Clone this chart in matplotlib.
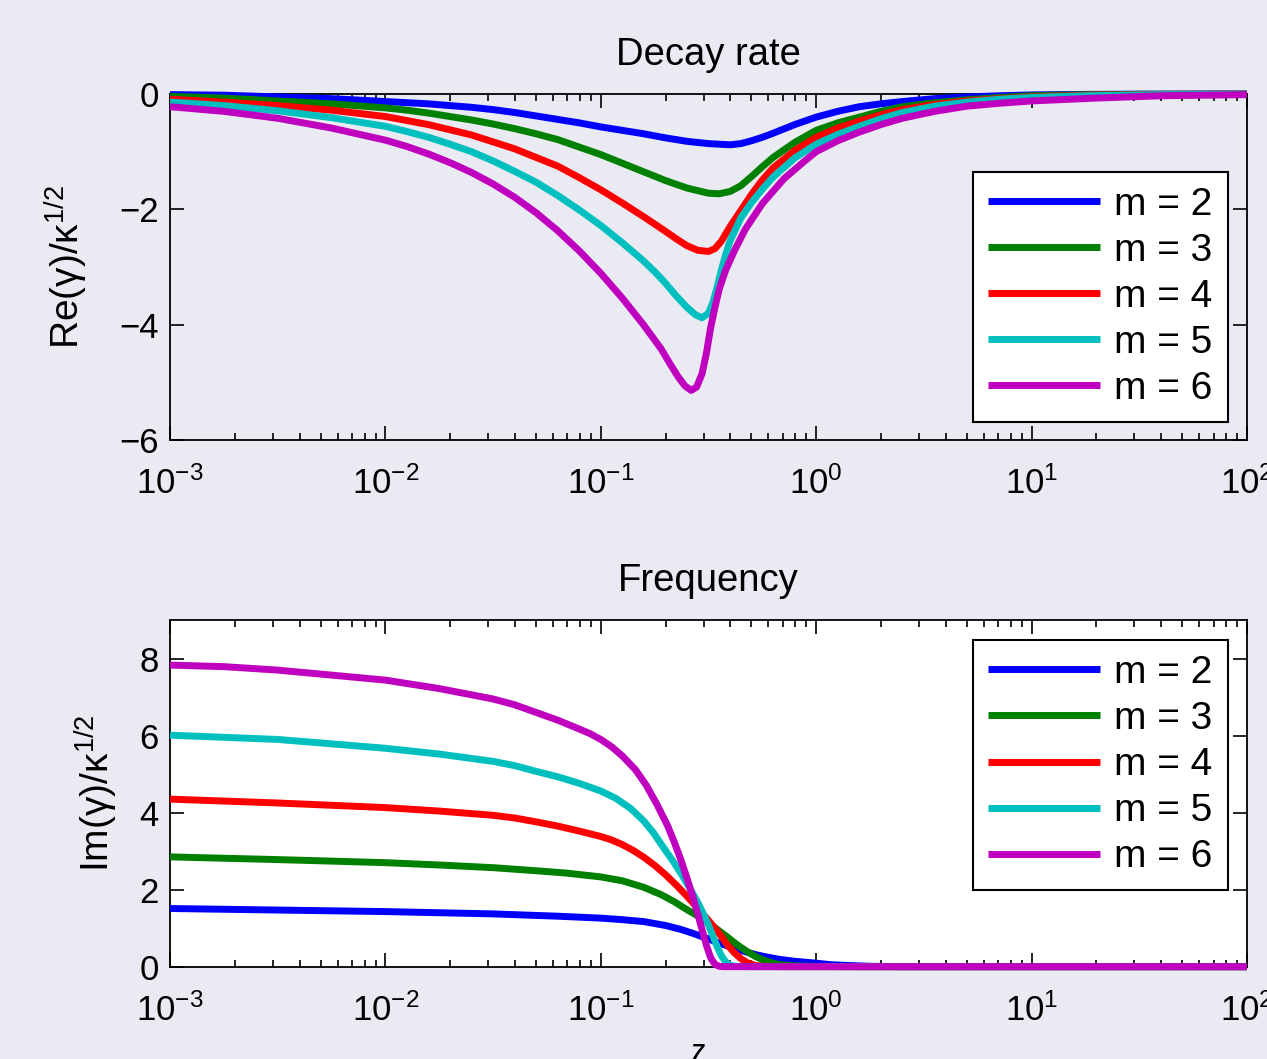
import numpy as np
import matplotlib
matplotlib.use('Agg')
import matplotlib.pyplot as plt
from matplotlib.ticker import LogLocator, NullFormatter

plt.rcParams['font.family'] = ['Liberation Sans', 'DejaVu Sans']
plt.rcParams['mathtext.fontset'] = 'custom'
plt.rcParams['mathtext.rm'] = 'Liberation Sans'
plt.rcParams['mathtext.it'] = 'Liberation Sans:italic'

labels = ['m = 2', 'm = 3', 'm = 4', 'm = 5', 'm = 6']
colors = ['#0000FF', '#008000', '#FF0000', '#00BFBF', '#BF00BF']

# decay rate, Re(gamma)/kappa^(1/2) -- x given as log10(zeta)
re_logx_m2 = [-3, -2.75, -2.5, -2.25, -2, -1.9, -1.8, -1.7, -1.6, -1.5, -1.4, -1.3, -1.2, -1.1, -1.0, -0.9, -0.8,
              -0.7, -0.6, -0.5, -0.4, -0.35, -0.3, -0.25, -0.2, -0.1, 0, 0.1, 0.2, 0.3, 0.4, 0.55, 0.7, 0.85, 1.0,
              1.25, 1.5, 2]
re_m2 = [-0.01, -0.02, -0.05, -0.08, -0.13, -0.15, -0.17, -0.20, -0.23, -0.27, -0.32, -0.38, -0.44, -0.50, -0.57, -0.63, -0.69,
         -0.76, -0.82, -0.86, -0.88, -0.86, -0.81, -0.75, -0.68, -0.53, -0.40, -0.30, -0.22, -0.17, -0.13, -0.08, -0.05, -0.03, -0.015,
         -0.006, -0.002, 0]

re_logx_m3 = [-3, -2.75, -2.5, -2.25, -2, -1.9, -1.8, -1.7, -1.6, -1.5, -1.4, -1.3, -1.2, -1.1, -1.0, -0.9, -0.8,
              -0.7, -0.6, -0.5, -0.45, -0.4, -0.35, -0.3, -0.25, -0.2, -0.1, 0, 0.1, 0.2, 0.3, 0.4, 0.55, 0.7, 0.85,
              1.0, 1.25, 1.5, 2]
re_m3 = [-0.04, -0.07, -0.12, -0.17, -0.24, -0.28, -0.33, -0.39, -0.45, -0.52, -0.60, -0.69, -0.79, -0.92, -1.05, -1.20, -1.35,
         -1.50, -1.63, -1.72, -1.73, -1.69, -1.59, -1.43, -1.26, -1.10, -0.84, -0.63, -0.50, -0.40, -0.30, -0.22, -0.15, -0.10, -0.06,
         -0.03, -0.012, -0.005, 0]

re_logx_m4 = [-3, -2.75, -2.5, -2.25, -2, -1.9, -1.8, -1.7, -1.6, -1.5, -1.4, -1.3, -1.2, -1.1, -1.0, -0.9, -0.8,
              -0.7, -0.65, -0.6, -0.55, -0.5, -0.47, -0.44, -0.4, -0.35, -0.3, -0.25, -0.2, -0.1, 0, 0.1, 0.2, 0.3,
              0.4, 0.55, 0.7, 0.85, 1.0, 1.25, 1.5, 2]
re_m4 = [-0.09, -0.14, -0.20, -0.28, -0.39, -0.46, -0.53, -0.62, -0.71, -0.83, -0.95, -1.10, -1.25, -1.45, -1.66, -1.89, -2.13,
         -2.38, -2.51, -2.63, -2.71, -2.73, -2.68, -2.55, -2.30, -2.02, -1.74, -1.49, -1.28, -0.98, -0.75, -0.59, -0.47, -0.36,
         -0.27, -0.18, -0.12, -0.08, -0.05, -0.02, -0.01, 0]

re_logx_m5 = [-3, -2.75, -2.5, -2.25, -2, -1.9, -1.8, -1.7, -1.6, -1.5, -1.4, -1.3, -1.2, -1.1, -1.0, -0.9, -0.8,
              -0.75, -0.7, -0.65, -0.6, -0.56, -0.53, -0.5, -0.48, -0.46, -0.44, -0.42, -0.4, -0.35, -0.3, -0.25,
              -0.2, -0.1, 0, 0.1, 0.2, 0.3, 0.4, 0.55, 0.7, 0.85, 1.0, 1.25, 1.5, 2]
re_m5 = [-0.14, -0.20, -0.29, -0.41, -0.56, -0.65, -0.75, -0.87, -1.0, -1.16, -1.34, -1.53, -1.76, -2.01, -2.28, -2.58, -2.90,
         -3.08, -3.28, -3.50, -3.70, -3.83, -3.88, -3.80, -3.62, -3.35, -3.05, -2.78, -2.55, -2.15, -1.88, -1.65,
         -1.44, -1.11, -0.87, -0.70, -0.56, -0.43, -0.32, -0.21, -0.14, -0.09, -0.06, -0.03, -0.015, 0]

re_logx_m6 = [-3, -2.75, -2.5, -2.25, -2, -1.9, -1.8, -1.7, -1.6, -1.5, -1.4, -1.3, -1.2, -1.1, -1.0, -0.9, -0.8,
              -0.72, -0.68, -0.64, -0.61, -0.58, -0.555, -0.53, -0.51, -0.49, -0.47, -0.45, -0.42, -0.38, -0.33,
              -0.25, -0.15, -0.05, 0, 0.1, 0.2, 0.3, 0.4, 0.55, 0.7, 0.85, 1.0, 1.3, 1.6, 2]
re_m6 = [-0.22, -0.30, -0.42, -0.59, -0.80, -0.91, -1.04, -1.19, -1.36, -1.56, -1.79, -2.06, -2.37, -2.72, -3.11, -3.54, -4.01,
         -4.42, -4.67, -4.91, -5.06, -5.14, -5.08, -4.85, -4.50, -4.05, -3.70, -3.38, -3.05, -2.72, -2.35,
         -1.90, -1.47, -1.15, -1.00, -0.81, -0.66, -0.53, -0.42, -0.30, -0.21, -0.16, -0.12, -0.07, -0.03, -0.01]

# frequency, Im(gamma)/kappa^(1/2)
im_logx_m2 = [-3, -2.5, -2, -1.5, -1.2, -1.0, -0.9, -0.8, -0.7, -0.63, -0.57, -0.51, -0.45, -0.38, -0.33, -0.28,
              -0.22, -0.17, -0.1, 0, 0.07, 0.15, 0.25, 0.4, 1, 2]
im_m2 = [1.51, 1.47, 1.43, 1.37, 1.31, 1.26, 1.22, 1.17, 1.07, 0.97, 0.86, 0.74, 0.61, 0.48, 0.39, 0.31,
         0.24, 0.19, 0.14, 0.09, 0.05, 0.03, 0.01, 0, 0, 0]

im_logx_m3 = [-3, -2.5, -2, -1.75, -1.5, -1.3, -1.16, -1.0, -0.9, -0.8, -0.72, -0.66, -0.6, -0.55, -0.51, -0.46,
              -0.415, -0.37, -0.32, -0.28, -0.245, -0.2, -0.17, -0.1, 0, 0.2, 1, 2]
im_m3 = [2.85, 2.78, 2.70, 2.64, 2.57, 2.49, 2.43, 2.33, 2.23, 2.06, 1.87, 1.69, 1.48, 1.32, 1.17, 0.97,
         0.78, 0.58, 0.39, 0.26, 0.17, 0.09, 0.05, 0.02, 0.005, 0, 0, 0]

im_logx_m4 = [-3, -2.5, -2, -1.75, -1.5, -1.4, -1.3, -1.2, -1.1, -1.0, -0.95, -0.9, -0.85, -0.8, -0.75, -0.7,
              -0.65, -0.6, -0.55, -0.5, -0.45, -0.415, -0.38, -0.35, -0.32, -0.28, -0.245, -0.15, 1, 2]
im_m4 = [4.35, 4.25, 4.13, 4.04, 3.93, 3.86, 3.76, 3.65, 3.52, 3.38, 3.29, 3.17, 3.02, 2.84, 2.63, 2.39,
         2.12, 1.83, 1.52, 1.20, 0.86, 0.58, 0.36, 0.21, 0.10, 0.03, 0.01, 0, 0, 0]

im_logx_m5 = [-3, -2.5, -2, -1.75, -1.5, -1.4, -1.3, -1.2, -1.1, -1.0, -0.93, -0.86, -0.8, -0.755, -0.71, -0.66,
              -0.62, -0.585, -0.55, -0.52, -0.5, -0.48, -0.46, -0.44, -0.42, -0.4, -0.38, -0.32, 1, 2]
im_m5 = [6.01, 5.90, 5.67, 5.52, 5.33, 5.22, 5.07, 4.93, 4.76, 4.56, 4.37, 4.10, 3.78, 3.47, 3.10, 2.70,
         2.35, 2.02, 1.67, 1.33, 1.08, 0.80, 0.52, 0.28, 0.12, 0.04, 0.01, 0, 0, 0]

im_logx_m6 = [-3, -2.75, -2.5, -2.25, -2, -1.75, -1.5, -1.4, -1.3, -1.2, -1.1, -1.05, -1.0, -0.95, -0.9, -0.84,
              -0.79, -0.74, -0.69, -0.66, -0.63, -0.6, -0.57, -0.55, -0.53, -0.51, -0.49, -0.47, -0.45, -0.43, 1, 2]
im_m6 = [7.83, 7.79, 7.70, 7.57, 7.44, 7.22, 6.95, 6.80, 6.60, 6.40, 6.17, 6.05, 5.90, 5.71, 5.47, 5.12,
         4.72, 4.22, 3.66, 3.25, 2.80, 2.30, 1.76, 1.37, 0.96, 0.56, 0.23, 0.06, 0.01, 0, 0, 0]

re_series = [(re_logx_m2, re_m2), (re_logx_m3, re_m3), (re_logx_m4, re_m4),
             (re_logx_m5, re_m5), (re_logx_m6, re_m6)]
im_series = [(im_logx_m2, im_m2), (im_logx_m3, im_m3), (im_logx_m4, im_m4),
             (im_logx_m5, im_m5), (im_logx_m6, im_m6)]

bg = '#EAEAF2'
fig = plt.figure(figsize=(12.67, 10.59), dpi=100, facecolor=bg)
ax1 = fig.add_axes([0.1342, 0.5845, 0.85, 0.3267], facecolor=bg)
ax2 = fig.add_axes([0.1342, 0.0872, 0.85, 0.3273], facecolor='white')


def style_axis(ax):
    ax.set_xscale('log')
    ax.set_xlim(1e-3, 1e2)
    ax.xaxis.set_major_locator(LogLocator(base=10, numticks=10))
    ax.xaxis.set_minor_locator(LogLocator(base=10, subs=np.arange(2, 10), numticks=10))
    ax.xaxis.set_minor_formatter(NullFormatter())
    ax.tick_params(which='both', direction='in', top=True, right=True, labelsize=25, width=1.2)
    ax.tick_params(axis='x', which='major', pad=19)
    ax.tick_params(axis='y', which='major', pad=8)
    ax.tick_params(which='major', length=10)
    ax.tick_params(which='minor', length=5)
    for s in ax.spines.values():
        s.set_linewidth(1.3)


for (lx, v), c, lab in zip(re_series, colors, labels):
    ax1.plot(10 ** np.array(lx), v, color=c, lw=5, label=lab, clip_on=False, zorder=3,
             solid_joinstyle='round', solid_capstyle='butt')
for (lx, v), c, lab in zip(im_series, colors, labels):
    ax2.plot(10 ** np.array(lx), v, color=c, lw=5, label=lab, clip_on=False, zorder=3,
             solid_joinstyle='round', solid_capstyle='butt')

style_axis(ax1)
ax1.set_ylim(-6, 0)
ax1.set_yticks([-6, -4, -2, 0])
ax1.set_title('Decay rate', fontsize=27.5, pad=21)
ax1.set_ylabel('Re(γ)/κ$^{\\mathregular{1/2}}$', fontsize=28)
ax1.yaxis.set_label_coords(-0.074, 0.5)

style_axis(ax2)
ax2.set_ylim(0, 9)
ax2.set_yticks([0, 2, 4, 6, 8])
ax2.set_title('Frequency', fontsize=27.5, pad=21)
ax2.set_ylabel('Im(γ)/κ$^{\\mathregular{1/2}}$', fontsize=28)
ax2.yaxis.set_label_coords(-0.046, 0.5)
ax2.set_xlabel('ζ', fontsize=26)
ax2.xaxis.set_label_coords(0.49, -0.222)
ax2.xaxis.label.set_va('top')

for ax, ytop in [(ax1, 0.775), (ax2, 0.942)]:
    leg = ax.legend(loc='upper right', bbox_to_anchor=(0.982, ytop), borderaxespad=0,
                    fontsize=28, handlelength=2.9, handletextpad=0.36, labelspacing=0.26,
                    fancybox=False, framealpha=1, edgecolor='black', borderpad=0.38)
    leg.get_frame().set_linewidth(1.5)
    leg.set_zorder(5)

fig.savefig('out.png', dpi=100, facecolor=bg)
